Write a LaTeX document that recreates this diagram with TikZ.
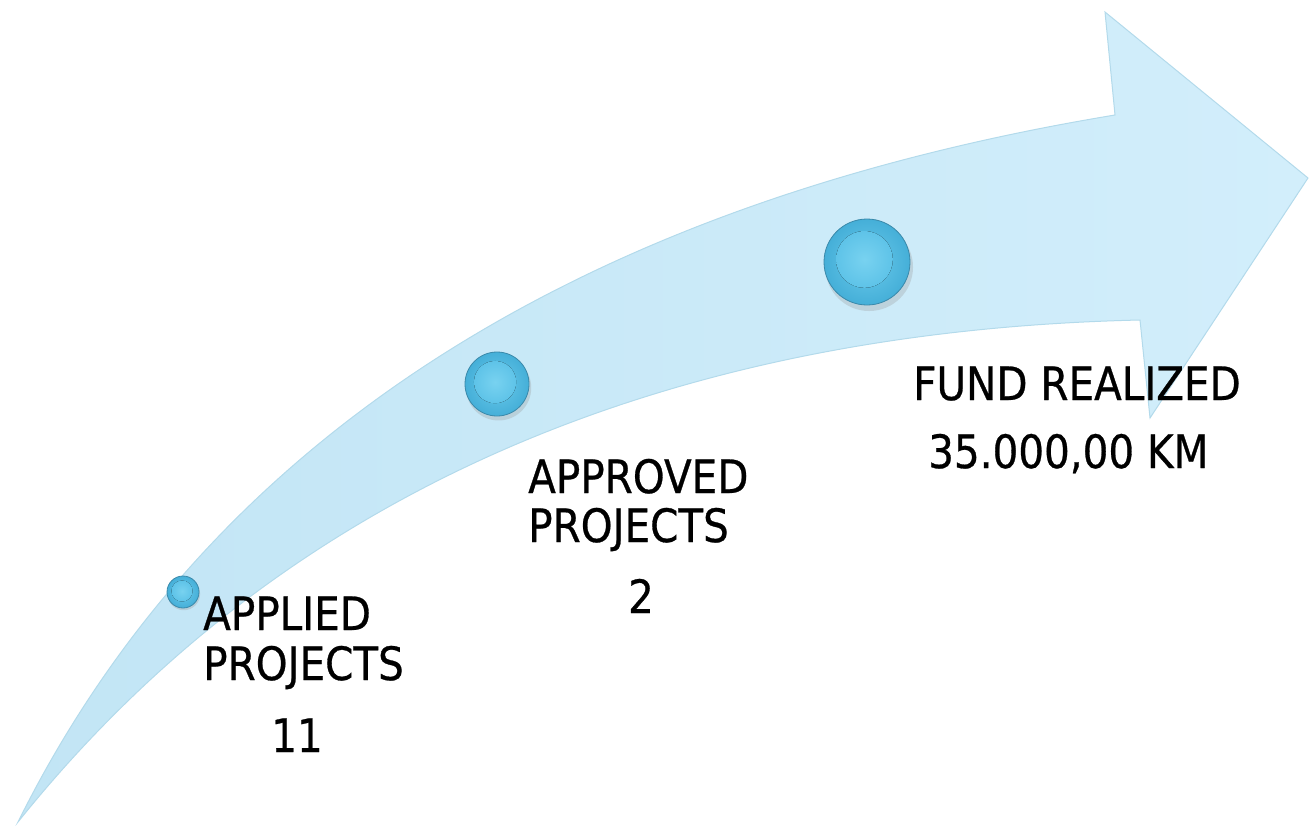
\documentclass[tikz,border=0pt]{standalone}
\usepackage{fontspec}
\setmainfont{DejaVu Sans}[FakeStretch=0.88,FakeBold=0.6]
\usetikzlibrary{shadows}
\definecolor{arrowL}{HTML}{C2E5F5}
\definecolor{arrowR}{HTML}{D2EEFB}
\definecolor{arrowEdge}{HTML}{B3DAEB}
\definecolor{btnOut}{HTML}{45AFD8}
\definecolor{btnIn}{HTML}{6ACAEB}
\definecolor{btnEdge}{HTML}{3A89AA}
\definecolor{btnCore}{HTML}{5EC3E8}
\definecolor{btnHi}{HTML}{78D2F0}
\tikzset{
  lbl/.style={font=\fontsize{46}{48}\selectfont, inner sep=0pt, anchor=base west, text=black},
  lblc/.style={font=\fontsize{46}{48}\selectfont, inner sep=0pt, anchor=base, text=black},
}
\newcommand{\mybutton}[4]{% name, x, y, r
  \fill[black!40, opacity=0.3] (#2+#4*0.05,#3+#4*0.12) circle (#4*1.02);
  \node[circle, minimum size=2*#4pt, inner sep=0pt, draw=btnEdge, line width=0.8pt,
        inner color=btnIn, outer color=btnOut] (#1) at (#2,#3) {};
  \fill[inner color=btnHi, outer color=btnCore] (#2-#4*0.06,#3-#4*0.06) circle (#4*0.66);
}
\begin{document}
\begin{tikzpicture}[x=1pt,y=-1pt]
\useasboundingbox (0,0) rectangle (1309,825);
% arrow
\path[draw=arrowEdge, line width=1pt, left color=arrowL, right color=arrowR]
  (18,822) .. controls (215,425) and (600,200) .. (1115,115)
  -- (1105,12) -- (1308,178) -- (1150,418) -- (1140,320)
  .. controls (700,330) and (300,470) .. (18,822) -- cycle;
% buttons
\mybutton{b1}{183}{592}{16}
\mybutton{b2}{497}{384}{32}
\mybutton{b3}{867}{262}{43}
% labels
\node[lbl] (t1a) at (203,630) {APPLIED};
\node[lbl] (t1b) at (203,680) {PROJECTS};
\node[lblc] (t1c) at (297,752) {11};
\node[lbl] (t2a) at (528,493) {APPROVED};
\node[lbl] (t2b) at (528,542) {PROJECTS};
\node[lblc] (t2c) at (641,613) {2};
\node[lbl] (t3a) at (913,400) {FUND REALIZED};
\node[lbl] (t3b) at (928,468) {35.000,00 KM};
\end{tikzpicture}
\end{document}
